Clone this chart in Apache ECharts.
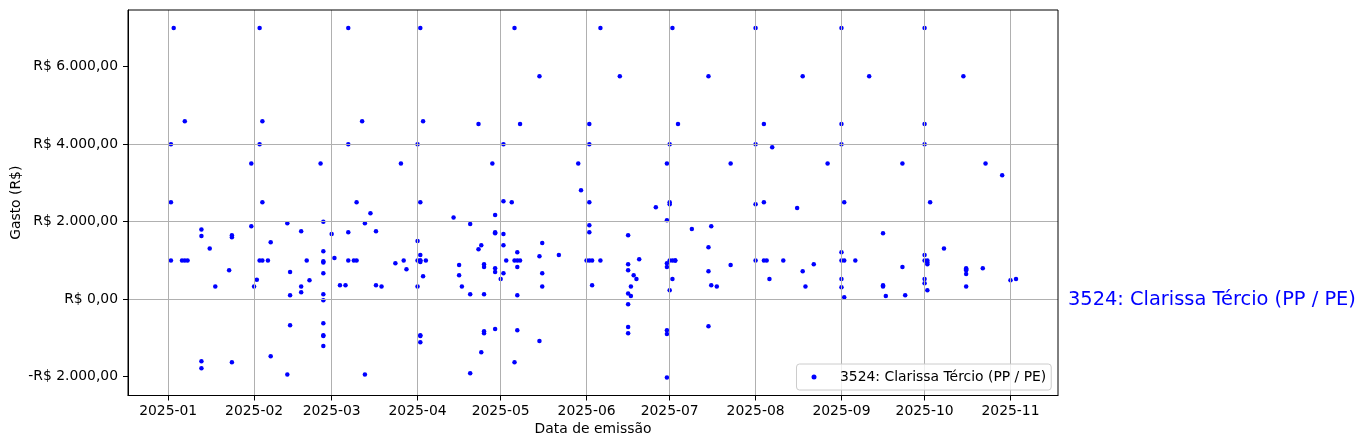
<!DOCTYPE html>
<html>
<head>
<meta charset="utf-8">
<script src="https://cdn.jsdelivr.net/npm/echarts@6/dist/echarts.min.js"></script>
<style>
html,body{margin:0;padding:0;background:#fff;}
#chart{width:1366px;height:448px;}
</style>
</head>
<body>
<div id="chart"></div>
<script>
// ---- data ----
const seriesName = '3524: Clarissa Tércio (PP / PE)';
const dayLabels = [
 '2025-01-02','2025-01-03','2025-01-06','2025-01-07','2025-01-08','2025-01-13','2025-01-16','2025-01-18','2025-01-23','2025-01-24','2025-01-31',
 '2025-02-01','2025-02-02','2025-02-03','2025-02-04','2025-02-06','2025-02-07','2025-02-13','2025-02-14','2025-02-18','2025-02-20','2025-02-21','2025-02-25','2025-02-26',
 '2025-03-01','2025-03-02','2025-03-04','2025-03-06','2025-03-07','2025-03-09','2025-03-10','2025-03-12','2025-03-13','2025-03-15','2025-03-17','2025-03-19','2025-03-24','2025-03-26','2025-03-27','2025-03-28',
 '2025-04-01','2025-04-02','2025-04-03','2025-04-04','2025-04-14','2025-04-16','2025-04-17','2025-04-20','2025-04-23','2025-04-24','2025-04-25','2025-04-28','2025-04-29',
 '2025-05-01','2025-05-02','2025-05-03','2025-05-05','2025-05-06','2025-05-07','2025-05-08','2025-05-15','2025-05-16','2025-05-22','2025-05-29','2025-05-30',
 '2025-06-01','2025-06-02','2025-06-03','2025-06-06','2025-06-13','2025-06-16','2025-06-17','2025-06-18','2025-06-19','2025-06-20','2025-06-26','2025-06-30',
 '2025-07-01','2025-07-02','2025-07-03','2025-07-04','2025-07-09','2025-07-15','2025-07-16','2025-07-18','2025-07-23',
 '2025-08-01','2025-08-04','2025-08-05','2025-08-06','2025-08-07','2025-08-11','2025-08-16','2025-08-18','2025-08-19','2025-08-22','2025-08-27',
 '2025-09-01','2025-09-02','2025-09-06','2025-09-11','2025-09-16','2025-09-17','2025-09-23','2025-09-24',
 '2025-10-01','2025-10-02','2025-10-03','2025-10-08','2025-10-15','2025-10-16','2025-10-22','2025-10-23','2025-10-29',
 '2025-11-01','2025-11-03'
];
const amountsByDay = [
 [4000,2500,1000],[7000],[1000],[4590,1000],[1000],[1800,1630,-1600,-1780],[1310],[330],[750],[1650,1600,-1630],[3500,1880],
 [330],[500],[7000,4000,1000],[4590,2500,1000],[1000],[1470,-1470],[1960,-1940],[700,100,-670],[1750,330,180],[1000],[490],[3500],
 [2000,1240,980,950,670,130,-30,-620,-930,-950,-1210],
 [1680],[1060],[360],[360],[7000,4000,1730,1000],[1000],[2500,1000],[4590],[1960,-1940],[2220],[1750,360],[330],[930],[3500],[1000],[770],
 [4000,1500,1000,330],[7000,2500,1140,1000,1000,960,-930,-950,-1110],[4590,590],[1000],[2110],[880,620],[330],[1940,130,-1910],[4520,1290],[1390,-1370],[900,830,130,-830,-880],[3500],[2170,1730,1700,800,700,-770],
 [520],[4000,2530,1680,1390,670],[1000],[2500],[7000,1000,-1630],[1210,1000,830,100,-800],[4520,1000],[5750,1110,-1080],[1450,670,330],[1140],[3500],[2810],
 [1000],[4520,4000,2500,1910,1730,1000],[1000,360],[7000,1000],[5750],[1650,900,750,150,-130,-720,-880],[330,80],[620],[520],[1030],[2370],[3500,2040,930,830,-800,-900,-2020],
 [4000,2500,2450,1000,230],[7000,1000,520],[1000,1000],[4520],[1810],[5750,1340,720,-700],[1880,360],[330],[3500,880],
 [7000,4000,2450,1000],[4520,2500,1000],[1000],[520],[3920],[1000],[2350],[5750,720],[330],[900],[3500],
 [7000,4520,4000,1210,1000,520,310],[2500,1000,50],[1000],[5750],[1700,360,330],[80],[3500,830],[100],
 [7000,4520,4000,1140,1000,520,410],[1000,950,900,230],[2500],[1310],[5750],[800,770,750,650,330],[800],[3500],[3200],
 [490],[520]
];
const yTickValues = [-2000, 0, 2000, 4000, 6000];

// ---- build points ----
const points = [];
dayLabels.forEach(function (d, i) {
  amountsByDay[i].forEach(function (v) { points.push([d, v]); });
});

const DAY = 86400000;
function ts(s) { const p = s.split('-'); return new Date(+p[0], +p[1] - 1, +p[2]).getTime(); }
const xMin = ts('2025-01-01') - 14.5 * DAY;
const xMax = ts('2025-11-01') + 17.15 * DAY;

function pad2(n) { return (n < 10 ? '0' : '') + n; }
function fmtBRL(v) {
  const neg = v < 0;
  const parts = Math.abs(v).toFixed(2).split('.');
  const intPart = parts[0].replace(/\B(?=(\d{3})+(?!\d))/g, '.');
  return (neg ? '-' : '') + 'R$ ' + intPart + ',' + parts[1];
}

const FONT = 'DejaVu Sans';
const chart = echarts.init(document.getElementById('chart'), null, { renderer: 'canvas' });
const option = {
  animation: false,
  backgroundColor: '#ffffff',
  textStyle: { fontFamily: FONT },
  grid: {
    left: 128, right: 308, top: 10, bottom: 52.5,
    containLabel: false, outerBoundsMode: 'none',
    show: true, borderColor: '#000000', borderWidth: 1, backgroundColor: 'transparent', z: 4
  },
  legend: {
    data: [seriesName],
    left: 796.5, top: 364,
    orient: 'vertical',
    icon: 'circle', itemWidth: 10, itemHeight: 5,
    padding: [6, 5, 6, 15],
    borderColor: '#cccccc', borderWidth: 1, borderRadius: 3,
    backgroundColor: 'rgba(255,255,255,0.8)',
    textStyle: { fontFamily: FONT, fontSize: 13.9, color: '#000', padding: [0, 0, 0, 16] },
    z: 10
  },
  xAxis: {
    type: 'time',
    min: xMin, max: xMax,
    minInterval: 28 * DAY, maxInterval: 31 * DAY, splitNumber: 11,
    z: 3,
    name: 'Data de emissão', nameLocation: 'middle', nameGap: 27, nameMoveOverlap: false,
    nameTextStyle: { fontFamily: FONT, fontSize: 13.9, color: '#000' },
    axisLine: { show: true, onZero: false, lineStyle: { color: '#000', width: 1 } },
    axisTick: { show: true, length: 5, lineStyle: { color: '#000', width: 1 } },
    axisLabel: {
      show: true, margin: 9, color: '#000', fontFamily: FONT, fontSize: 13.9,
      showMinLabel: false, showMaxLabel: false, hideOverlap: false,
      formatter: function (v) { const d = new Date(v); return d.getFullYear() + '-' + pad2(d.getMonth() + 1); }
    },
    splitLine: { show: true, showMinLine: false, showMaxLine: false, lineStyle: { color: '#b0b0b0', width: 1 } }
  },
  yAxis: {
    type: 'value',
    min: -2485, max: 7462, splitNumber: 5,
    z: 3,
    name: 'Gasto (R$)', nameLocation: 'middle', nameGap: 105, nameRotate: 90, nameMoveOverlap: false,
    nameTextStyle: { fontFamily: FONT, fontSize: 13.9, color: '#000' },
    axisLine: { show: true, onZero: false, lineStyle: { color: '#000', width: 1 } },
    axisTick: { show: true, length: 5, lineStyle: { color: '#000', width: 1 }, customValues: yTickValues },
    axisLabel: {
      show: true, margin: 10, color: '#000', fontFamily: FONT, fontSize: 13.9,
      customValues: yTickValues,
      formatter: function (v) { return fmtBRL(v); }
    },
    splitLine: { show: true, showMinLine: false, showMaxLine: false, lineStyle: { color: '#b0b0b0', width: 1 } }
  },
  series: [{
    name: seriesName,
    type: 'scatter',
    data: points,
    symbol: 'circle',
    symbolSize: 4.5,
    itemStyle: { color: '#0000ff', opacity: 1 },
    z: 2,
    silent: true
  }]
};
chart.setOption(option);

// label at the right side, placed at the zero value of the y axis
const yZero = chart.convertToPixel({ yAxisIndex: 0 }, 0);
chart.setOption({
  graphic: [{
    type: 'text', left: 1068, top: yZero - 9,
    style: { text: seriesName, fill: '#0000ff', font: '19.4px "DejaVu Sans"', textVerticalAlign: 'top' }
  }]
});
</script>
</body>
</html>
